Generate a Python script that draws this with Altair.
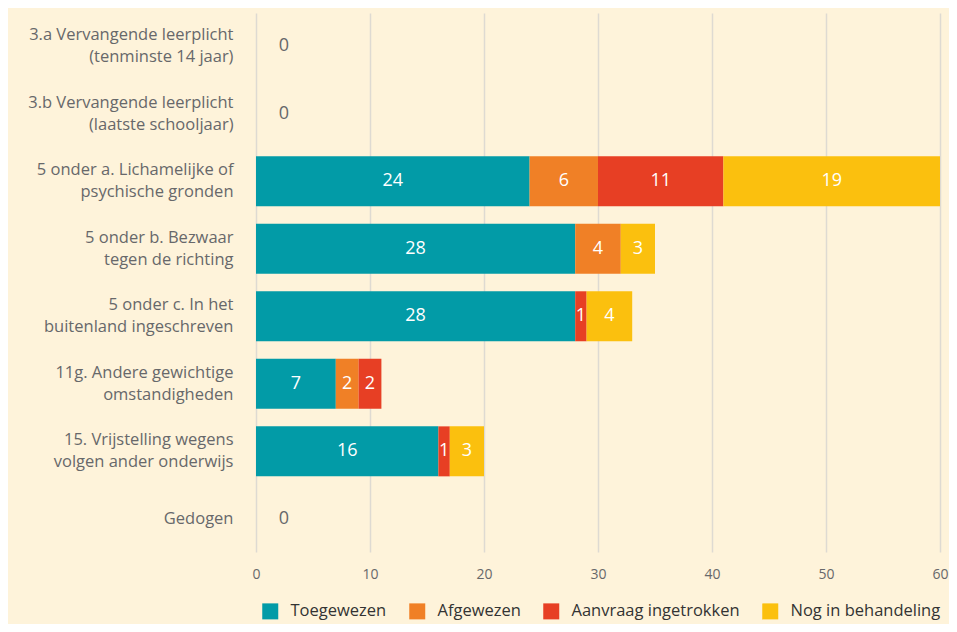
import altair as alt
import pandas as pd

categories = [
    "3.a Vervangende leerplicht|(tenminste 14 jaar)",
    "3.b Vervangende leerplicht|(laatste schooljaar)",
    "5 onder a. Lichamelijke of|psychische gronden",
    "5 onder b. Bezwaar|tegen de richting",
    "5 onder c. In het|buitenland ingeschreven",
    "11g. Andere gewichtige|omstandigheden",
    "15. Vrijstelling wegens|volgen ander onderwijs",
    "Gedogen",
]
series = ["Toegewezen", "Afgewezen", "Aanvraag ingetrokken", "Nog in behandeling"]
colors = ["#029ba7", "#f08026", "#e73f24", "#fbc00e"]

toegewezen = [0, 0, 24, 28, 28, 7, 16, 0]
afgewezen = [0, 0, 6, 4, 0, 2, 0, 0]
ingetrokken = [0, 0, 11, 0, 1, 2, 1, 0]
behandeling = [0, 0, 19, 3, 4, 0, 3, 0]
x_ticks = [0, 10, 20, 30, 40, 50, 60]

rows = []
for i, c in enumerate(categories):
    for s, vals in zip(series, [toegewezen, afgewezen, ingetrokken, behandeling]):
        if vals[i] > 0:
            rows.append({"cat": c, "serie": s, "order": series.index(s), "value": vals[i]})
df = pd.DataFrame(rows)

zero_df = pd.DataFrame({
    "cat": [c for i, c in enumerate(categories)
            if toegewezen[i] + afgewezen[i] + ingetrokken[i] + behandeling[i] == 0],
})
zero_df["value"] = 0

font = "Open Sans"
gray = "#67686a"

y_enc = alt.Y(
    "cat:N",
    sort=categories,
    title=None,
    scale=alt.Scale(paddingInner=0.26, paddingOuter=0.12),
    axis=alt.Axis(
        labelExpr="split(datum.label, '|')",
        labelFontSize=16.5,
        labelColor=gray,
        labelFont=font,
        labelFontWeight=500,
        labelLineHeight=22,
        labelPadding=23,
        labelOffset={"condition": {"test": "indexof(datum.value, '|') >= 0", "value": -11}, "value": 0},
        ticks=False,
        domain=False,
        labelLimit=300,
    ),
)

x_scale = alt.Scale(domain=[0, 60])

bars = alt.Chart(df).mark_bar().encode(
    x=alt.X(
        "value:Q",
        stack="zero",
        scale=x_scale,
        title=None,
        axis=alt.Axis(
            values=x_ticks,
            grid=True,
            gridColor="#dedad2",
            gridWidth=1.5,
            domain=False,
            ticks=False,
            labelPadding=15,
            labelFontSize=14,
            labelColor=gray,
            labelFont=font,
            labelFontWeight=500,
            labelFlush=False,
        ),
    ),
    y=y_enc,
    color=alt.Color(
        "serie:N",
        scale=alt.Scale(domain=series, range=colors),
        title=None,
        legend=alt.Legend(
            orient="none",
            legendX=6,
            legendY=590,
            direction="horizontal",
            symbolType="square",
            symbolSize=256,
            symbolStrokeWidth=0,
            symbolOpacity=1,
            labelFontSize=16.5,
            labelFont=font,
            labelFontWeight=500,
            labelColor="#333333",
            labelOffset=12,
            columnPadding=22,
            labelLimit=300,
        ),
    ),
    order=alt.Order("order:Q"),
)

labels = alt.Chart(df).transform_stack(
    stack="value", groupby=["cat"], as_=["x0", "x1"], sort=[alt.SortField("order")]
).transform_calculate(
    mid="(datum.x0 + datum.x1) / 2"
).mark_text(color="white", fontSize=18, font=font, fontWeight=500, baseline="middle").encode(
    x=alt.X("mid:Q", scale=x_scale),
    y=alt.Y("cat:N", sort=categories),
    text="value:Q",
)

zeros = alt.Chart(zero_df).mark_text(
    color=gray, fontSize=18, font=font, fontWeight=500, dx=28, baseline="middle"
).encode(
    x=alt.X("value:Q", scale=x_scale),
    y=alt.Y("cat:N", sort=categories),
    text="value:Q",
)

chart = alt.layer(bars, labels, zeros).properties(
    width=684,
    height=539,
    autosize=alt.AutoSizeParams(type="none"),
    padding={"left": 248, "top": 5, "right": 9, "bottom": 72},
    background="#fef3da",
).configure_view(stroke=None)

chart.save("out.html", embed_options={"renderer": "svg", "actions": False})
